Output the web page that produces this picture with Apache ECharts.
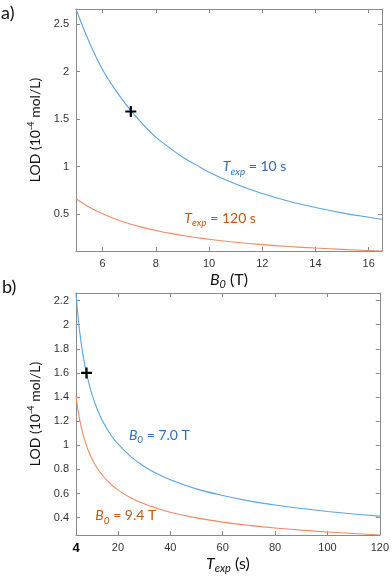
<!DOCTYPE html>
<html><head><meta charset="utf-8">
<script src="https://cdn.jsdelivr.net/npm/echarts@6/dist/echarts.min.js"></script>
<style>html,body{margin:0;padding:0;background:#fff}#c{width:392px;height:577px}</style>
</head><body><div id="c"></div>
<script>
// ---- panel a) LOD vs B0 ----
const bField = [5, 5.5, 6, 6.5, 7, 7.5, 8, 8.5, 9, 9.5, 10, 11, 12, 13, 14, 15, 16, 16.5];
const lodTexp10 = [2.66, 2.31, 2.02, 1.80, 1.61, 1.45, 1.31, 1.20, 1.10, 1.02, 0.94, 0.815, 0.715, 0.634, 0.568, 0.512, 0.465, 0.444];
const lodTexp120 = [0.66, 0.572, 0.502, 0.445, 0.398, 0.359, 0.326, 0.298, 0.273, 0.252, 0.233, 0.202, 0.177, 0.157, 0.141, 0.127, 0.115, 0.110];
const markA = [7.06, 1.58];
const aXTicks = [6, 8, 10, 12, 14, 16];
const aYTicks = [0.5, 1, 1.5, 2, 2.5];

// ---- panel b) LOD vs Texp ----
const tExp = [4, 5, 6, 7, 8, 9, 10, 12, 14, 17, 20, 25, 30, 35, 40, 50, 60, 70, 80, 90, 100, 110, 120];
const lodB70 = [2.26, 2.02, 1.845, 1.708, 1.598, 1.507, 1.429, 1.305, 1.208, 1.096, 1.011, 0.904, 0.825, 0.764, 0.715, 0.639, 0.584, 0.540, 0.505, 0.476, 0.452, 0.431, 0.413];
const lodB94 = [1.41, 1.261, 1.151, 1.066, 0.997, 0.940, 0.892, 0.814, 0.754, 0.684, 0.631, 0.564, 0.515, 0.477, 0.446, 0.399, 0.364, 0.337, 0.315, 0.297, 0.282, 0.269, 0.257];
const markB = [8, 1.6];
const bXTicks = [4, 20, 40, 60, 80, 100, 120];
const bYTicks = [0.4, 0.6, 0.8, 1, 1.2, 1.4, 1.6, 1.8, 2, 2.2];

const BLUE = '#5aa5e2', ORANGE = '#f08a63';
const BLUE_T = '#2e6fb5', ORANGE_T = '#c5590f';
const AXC = '#8a8a8a', LBL = '#333333';
const TF = 'Lato, "Open Sans", sans-serif';
const NF = '"Liberation Sans", Arial, sans-serif';

const zip = (a, b) => a.map((v, i) => [v, b[i]]);

const richAxis = {
  n: {fontFamily: TF, fontSize: 16, color: '#111', lineHeight: 20},
  i: {fontFamily: TF, fontSize: 16, fontStyle: 'italic', color: '#111', lineHeight: 20},
  sub: {fontFamily: TF, fontSize: 11, fontStyle: 'italic', color: '#111', lineHeight: 11, verticalAlign: 'bottom'},
};
const richAnn = {
  n: {fontFamily: TF, fontSize: 14, lineHeight: 20},
  i: {fontFamily: TF, fontSize: 14, fontStyle: 'italic', lineHeight: 20},
  sub: {fontFamily: TF, fontSize: 10, fontStyle: 'italic', lineHeight: 10, verticalAlign: 'bottom'},
};
function colored(c) {
  const r = {};
  for (const k in richAnn) r[k] = Object.assign({}, richAnn[k], {color: c});
  return r;
}

function xAxes(grid, min, max, ticks, name, fmt) {
  return [
    {type: 'value', gridIndex: grid, min, max, position: 'bottom',
     axisLine: {show: true, onZero: false, lineStyle: {color: AXC, width: 1}},
     axisTick: {show: true, inside: true, length: 4, customValues: ticks, lineStyle: {color: AXC}},
     axisLabel: {show: true, customValues: ticks, margin: 7, fontFamily: NF, fontSize: 11, color: LBL,
                 formatter: fmt || (v => String(v)),
                 rich: {b: {fontFamily: NF, fontSize: 13, color: '#000', fontWeight: 'bold'}}},
     splitLine: {show: false},
     name: name, nameLocation: 'middle', nameGap: 19,
     nameTextStyle: {rich: richAxis}},
    {type: 'value', gridIndex: grid, min, max, position: 'top',
     axisLine: {show: true, onZero: false, lineStyle: {color: AXC, width: 1}},
     axisTick: {show: true, inside: true, length: 4, customValues: ticks, lineStyle: {color: AXC}},
     axisLabel: {show: false}, splitLine: {show: false}}
  ];
}
function yAxes(grid, min, max, ticks) {
  return [
    {type: 'value', gridIndex: grid, min, max, position: 'left',
     axisLine: {show: true, onZero: false, lineStyle: {color: AXC, width: 1}},
     axisTick: {show: true, inside: true, length: 4, customValues: ticks, lineStyle: {color: AXC}},
     axisLabel: {show: true, customValues: ticks, margin: 7, fontFamily: NF, fontSize: 11, color: LBL},
     splitLine: {show: false},
     name: '{n|LOD (10}{sup|-4}{n| mol/L)}', nameLocation: 'middle', nameGap: 26, nameRotate: 90,
     nameTextStyle: {rich: {
       n: {fontFamily: TF, fontSize: 14, color: '#111', lineHeight: 18},
       sup: {fontFamily: TF, fontSize: 9, color: '#111', lineHeight: 11, verticalAlign: 'top'}
     }}},
    {type: 'value', gridIndex: grid, min, max, position: 'right',
     axisLine: {show: true, onZero: false, lineStyle: {color: AXC, width: 1}},
     axisTick: {show: true, inside: true, length: 4, customValues: ticks, lineStyle: {color: AXC}},
     axisLabel: {show: false}, splitLine: {show: false}}
  ];
}

const plusPath = 'path://M4,0H6V4H10V6H6V10H4V6H0V4H4Z';

function labelPoint(coord, text, color) {
  return {
    coord: coord, symbol: 'circle', symbolSize: 1, itemStyle: {color: 'rgba(0,0,0,0)'},
    label: {show: true, position: 'right', distance: 0, formatter: text, rich: colored(color)}
  };
}

const option = {
  animation: false,
  backgroundColor: '#fff',
  grid: [
    {left: 76, top: 9, width: 306, height: 242},
    {left: 76, top: 293, width: 306, height: 242}
  ],
  xAxis: [
    ...xAxes(0, 5, 16.5, aXTicks, '{i|B}{sub|0}{n| (T)}'),
    ...xAxes(1, 4, 120, bXTicks, '{i|T}{sub|exp}{n| (s)}', v => v === 4 ? '{b|4}' : String(v))
  ],
  yAxis: [
    ...yAxes(0, 0.11, 2.66, aYTicks),
    ...yAxes(1, 0.257, 2.262, bYTicks)
  ],
  graphic: [
    {type: 'text', left: 1, top: 4, style: {text: 'a)', font: '18px Lato, sans-serif', fill: '#111'}},
    {type: 'text', left: 2, top: 278, style: {text: 'b)', font: '18px Lato, sans-serif', fill: '#111'}}
  ],
  series: [
    {type: 'line', xAxisIndex: 0, yAxisIndex: 0, data: zip(bField, lodTexp10), smooth: 0.4, showSymbol: false,
     lineStyle: {color: BLUE, width: 1.1}, itemStyle: {color: BLUE},
     markPoint: {data: [labelPoint([10.5, 1.0], '{i|T}{sub|exp}{n| = 10 s}', BLUE_T)]}},
    {type: 'line', xAxisIndex: 0, yAxisIndex: 0, data: zip(bField, lodTexp120), smooth: 0.4, showSymbol: false,
     lineStyle: {color: ORANGE, width: 1.1}, itemStyle: {color: ORANGE},
     markPoint: {data: [labelPoint([9.05, 0.455], '{i|T}{sub|exp}{n| = 120 s}', ORANGE_T)]}},
    {type: 'scatter', xAxisIndex: 0, yAxisIndex: 0, data: [markA], symbol: plusPath, symbolSize: 11,
     itemStyle: {color: '#000', opacity: 1}, z: 5},
    {type: 'line', xAxisIndex: 2, yAxisIndex: 2, data: zip(tExp, lodB70), smooth: 0.4, showSymbol: false,
     lineStyle: {color: BLUE, width: 1.1}, itemStyle: {color: BLUE},
     markPoint: {data: [labelPoint([24, 1.085], '{i|B}{sub|0}{n| = 7.0 T}', BLUE_T)]}},
    {type: 'line', xAxisIndex: 2, yAxisIndex: 2, data: zip(tExp, lodB94), smooth: 0.4, showSymbol: false,
     lineStyle: {color: ORANGE, width: 1.1}, itemStyle: {color: ORANGE},
     markPoint: {data: [labelPoint([11.2, 0.415], '{i|B}{sub|0}{n| = 9.4 T}', ORANGE_T)]}},
    {type: 'scatter', xAxisIndex: 2, yAxisIndex: 2, data: [markB], symbol: plusPath, symbolSize: 11,
     itemStyle: {color: '#000', opacity: 1}, z: 5}
  ]
};
const chart = echarts.init(document.getElementById('c'), null, {renderer: 'canvas'});
chart.setOption(option);
</script>
</body></html>
